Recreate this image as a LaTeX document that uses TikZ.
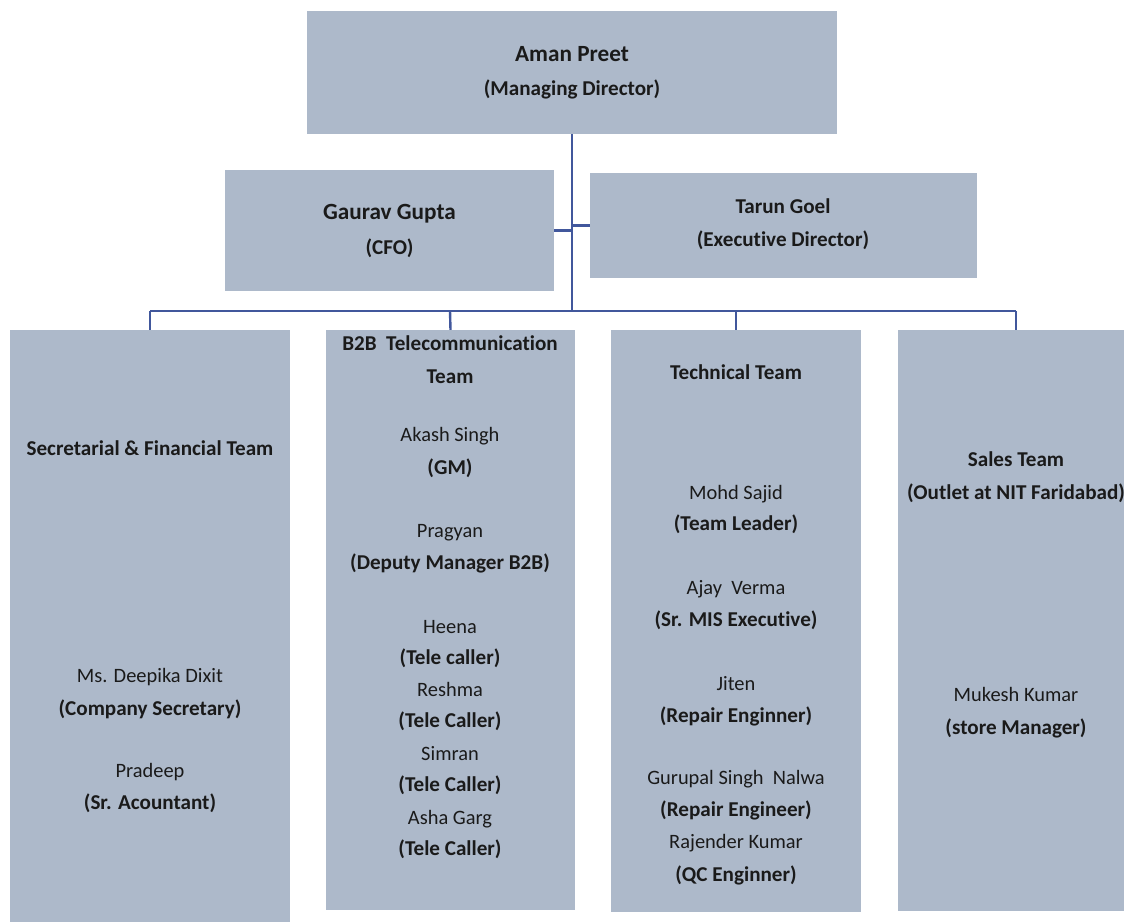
\documentclass[tikz,border=0pt]{standalone}
\usepackage{fontspec}
\setmainfont{Carlito}[Ligatures=NoCommon]
\definecolor{boxfill}{HTML}{ADB9CA}
\definecolor{linecol}{HTML}{41579C}
\definecolor{txtcol}{HTML}{1A1A1A}
\tikzset{
  orgbox/.style={rectangle, fill=boxfill, draw=none, inner sep=0pt},
  txt/.style={inner sep=0pt, text height=14bp, text depth=4bp, text=txtcol,
              font=\fontsize{20.5}{24}\selectfont},
  btxt/.style={txt, font=\fontsize{21.2}{25}\selectfont\bfseries},
  bigtxt/.style={txt, font=\fontsize{23.3}{27}\selectfont\bfseries, text height=16bp, text depth=5bp},
  conn/.style={draw=linecol, line width=2.4bp}
}
\begin{document}
\begin{tikzpicture}[x=1bp, y=-1bp]
\useasboundingbox (0,0) rectangle (1124,922);
\clip (0,0) rectangle (1124,922);
% boxes
\node[orgbox, minimum width=530bp, minimum height=123bp] (MD) at (572,72.5) {};
\node[orgbox, minimum width=329bp, minimum height=121bp] (CFO) at (389.5,230.5) {};
\node[orgbox, minimum width=387bp, minimum height=105bp] (ED) at (783.5,225.5) {};
\node[orgbox, minimum width=280bp, minimum height=600bp] (T1) at (150,630) {};
\node[orgbox, minimum width=249bp, minimum height=580bp] (T2) at (450.5,620) {};
\node[orgbox, minimum width=250bp, minimum height=582bp] (T3) at (736,621) {};
\node[orgbox, minimum width=236bp, minimum height=581bp] (T4) at (1016,620.5) {};
% connectors
\coordinate (j1) at (150,311);
\coordinate (j2) at (450,311);
\coordinate (j3) at (736,311);
\coordinate (j4) at (1016,311);
\draw[conn] (MD.south) -- (MD.south |- j1);
\draw[conn] (j1) -- (j4);
\draw[conn] (j1) -- (T1.north);
\draw[conn] (j2) -- (T2.north);
\draw[conn] (j3) -- (T3.north);
\draw[conn] (j4) -- (T4.north);
\draw[conn] (CFO.east) -- (CFO.east -| MD.south);
\draw[conn] (ED.west) -- (ED.west -| MD.south);
% top texts
\node[bigtxt] (mdname) at (572,56) {Aman Preet};
\node[btxt] (mdrole) at (572,90) {(Managing Director)};
\node[bigtxt] (cfoname) at (389.5,214) {Gaurav Gupta};
\node[btxt] (cforole) at (389.5,249) {(CFO)};
\node[btxt] (edname) at (783,208) {Tarun Goel};
\node[btxt] (edrole) at (783,241) {(Executive Director)};
% team 1
\node[btxt] (t1title) at (150,450) {Secretarial \& Financial Team};
\node[txt] (t1a) at (150,677) {Ms. Deepika Dixit};
\node[btxt] (t1ar) at (150,710) {(Company Secretary)};
\node[txt] (t1b) at (150,772) {Pradeep};
\node[btxt] (t1br) at (150,804) {(Sr. Acountant)};
% team 2
\node[btxt] (t2title) at (450,345) {B2B\ \ Telecommunication};
\node[btxt] (t2title2) at (450,378) {Team};
\node[txt] (t2a) at (450,436) {Akash Singh};
\node[btxt] (t2ar) at (450,469) {(GM)};
\node[txt] (t2b) at (450,532) {Pragyan};
\node[btxt] (t2br) at (450,564) {(Deputy Manager B2B)};
\node[txt] (t2c) at (450,628) {Heena};
\node[btxt] (t2cr) at (450,659) {(Tele caller)};
\node[txt] (t2d) at (450,691) {Reshma};
\node[btxt] (t2dr) at (450,722) {(Tele Caller)};
\node[txt] (t2e) at (450,755) {Simran};
\node[btxt] (t2er) at (450,786) {(Tele Caller)};
\node[txt] (t2f) at (450,819) {Asha Garg};
\node[btxt] (t2fr) at (450,850) {(Tele Caller)};
% team 3
\node[btxt] (t3title) at (736,374) {Technical Team};
\node[txt] (t3a) at (736,494) {Mohd Sajid};
\node[btxt] (t3ar) at (736,525) {(Team Leader)};
\node[txt] (t3b) at (736,589) {Ajay\ \ Verma};
\node[btxt] (t3br) at (736,621) {(Sr. MIS Executive)};
\node[txt] (t3c) at (736,685) {Jiten};
\node[btxt] (t3cr) at (736,717) {(Repair Enginner)};
\node[txt] (t3d) at (736,779) {Gurupal Singh\ \ Nalwa};
\node[btxt] (t3dr) at (736,811) {(Repair Engineer)};
\node[txt] (t3e) at (736,843) {Rajender Kumar};
\node[btxt] (t3er) at (736,876) {(QC Enginner)};
% team 4
\node[btxt] (t4title) at (1016,461) {Sales Team};
\node[btxt] (t4sub) at (1016,494) {(Outlet at NIT Faridabad)};
\node[txt] (t4a) at (1016,696) {Mukesh Kumar};
\node[btxt] (t4ar) at (1016,729) {(store Manager)};
\end{tikzpicture}
\end{document}
